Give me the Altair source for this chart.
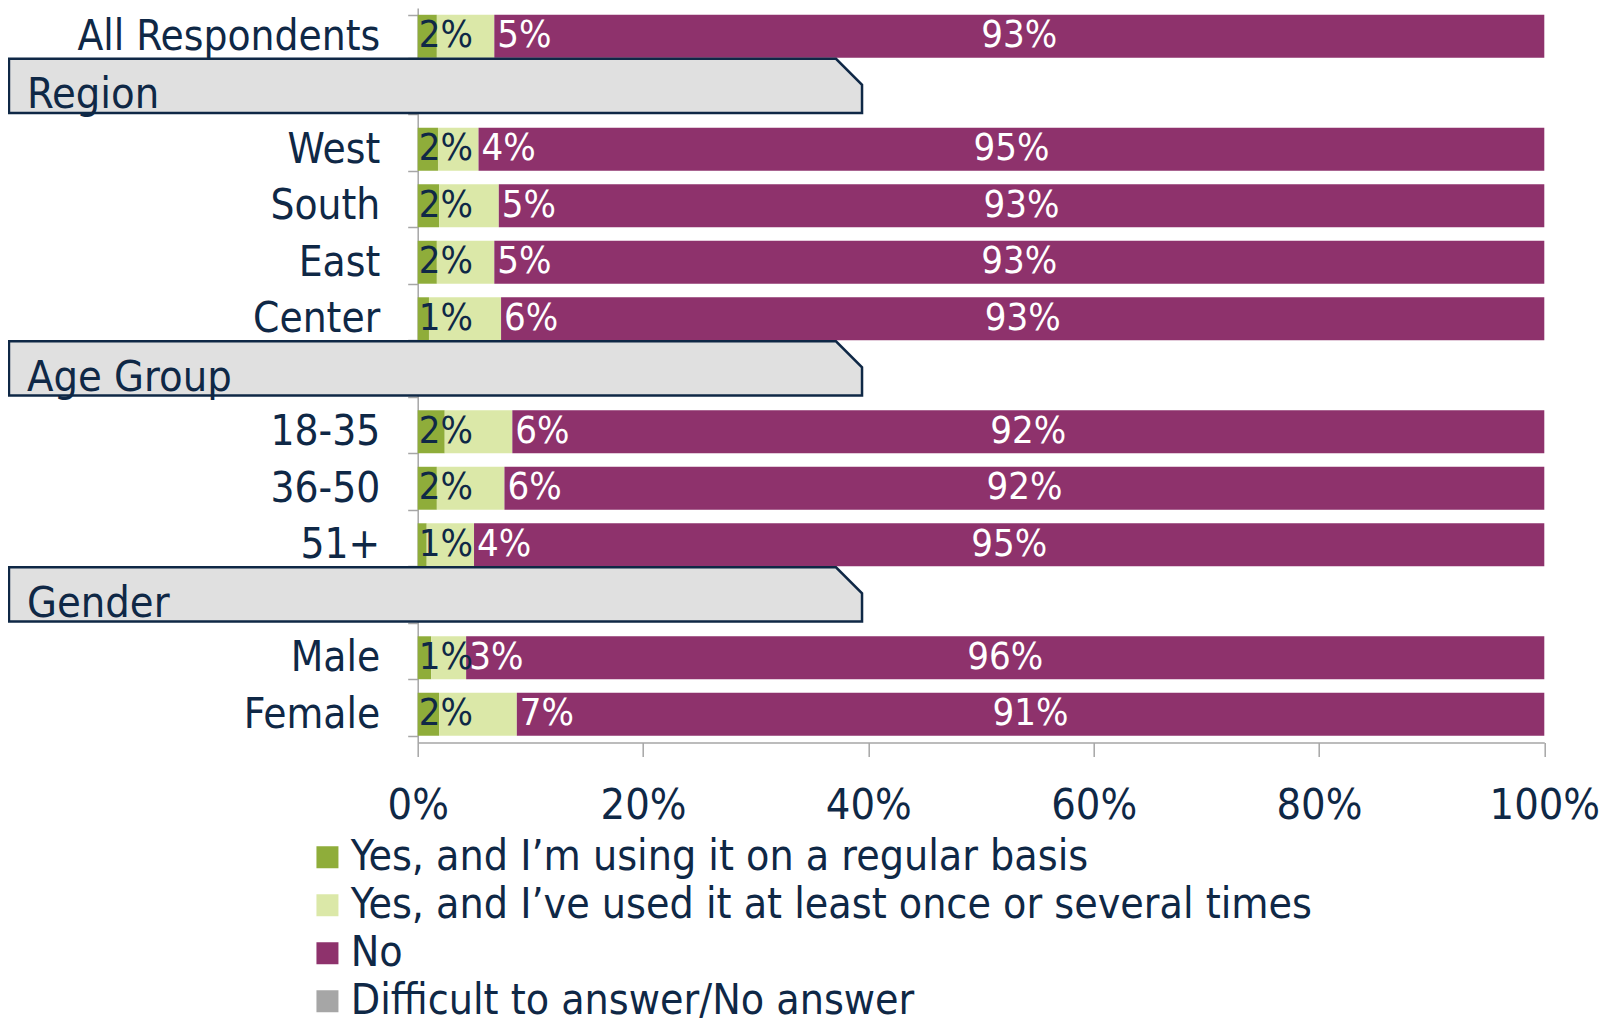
import altair as alt
import pandas as pd

# ---------------- data ----------------
categories = ["All Respondents", "Region", "West", "South", "East", "Center",
              "Age Group", "18-35", "36-50", "51+", "Gender", "Male", "Female"]
headers = ["Region", "Age Group", "Gender"]
groups = ["All Respondents", "West", "South", "East", "Center",
          "18-35", "36-50", "51+", "Male", "Female"]
series = ["Yes, and I’m using it on a regular basis",
          "Yes, and I’ve used it at least once or several times",
          "No",
          "Difficult to answer/No answer"]
regular = [1.7, 1.8, 1.9, 1.7, 1.0, 2.4, 1.7, 0.8, 1.2, 1.9]
once = [5.1, 3.6, 5.3, 5.1, 6.4, 6.0, 6.0, 4.2, 3.1, 6.9]
no = [93.2, 94.6, 92.8, 93.2, 92.6, 91.6, 92.3, 95.0, 95.7, 91.2]
difficult = [0.0, 0.0, 0.0, 0.0, 0.0, 0.0, 0.0, 0.0, 0.0, 0.0]
x_ticks = [0, 20, 40, 60, 80, 100]

# ---------------- styles ----------------
colors = ["#8FAD3A", "#DBE8A8", "#8E326C", "#A6A6A6"]
NAVY = "#0F2846"
GRAY = "#A6A6A6"
BOX_FILL = "#E0E0E0"
FONT = "DejaVu Sans Condensed, DejaVu Sans, sans-serif"

rows = []
for i, g in enumerate(groups):
    start = 0.0
    for k, (s, vals) in enumerate(zip(series, [regular, once, no, difficult])):
        v = vals[i]
        rows.append(dict(group=g, series=s, k=k, start=start, end=start + v,
                         mid=start + v / 2, label=f"{round(v)}%"))
        start += v
df = pd.DataFrame(rows)

xscale = alt.Scale(domain=[0, 100], nice=False, zero=False)
yscale = alt.Scale(domain=categories, paddingInner=0.24, paddingOuter=0.12)
hdr_list = ",".join("'" + h + "'" for h in headers)

y_axis = alt.Axis(title=None, labelExpr=f"indexof([{hdr_list}], datum.label) >= 0 ? '' : datum.label",
                  labelFontSize=42, labelFont=FONT, labelColor=NAVY, labelPadding=28,
                  labelLimit=700, tickBand="extent", tickSize=10, tickColor=GRAY,
                  tickWidth=1.5, domainColor=GRAY, domainWidth=1.5)
x_axis = alt.Axis(title=None, values=x_ticks, labelExpr="datum.value + '%'", grid=False,
                  tickSize=14, tickColor=GRAY, tickWidth=1.5, domainColor=GRAY,
                  domainWidth=1.5, labelFontSize=43, labelFont=FONT, labelColor=NAVY,
                  labelPadding=28, labelFlush=False)

legend = alt.Legend(title=None, orient="none", legendX=-111.5, legendY=828,
                    direction="vertical", symbolType="square", symbolSize=484,
                    symbolStrokeWidth=0, symbolOpacity=1, labelFontSize=42.5,
                    labelFont=FONT, labelColor=NAVY, labelLimit=1400, rowPadding=5,
                    labelOffset=2, padding=0)

base = alt.Chart(df)
bars = base.mark_bar().encode(
    y=alt.Y("group:N", sort=categories, scale=yscale, axis=y_axis),
    x=alt.X("start:Q", scale=xscale, axis=x_axis),
    x2="end:Q",
    color=alt.Color("series:N", scale=alt.Scale(domain=series, range=colors), legend=legend),
    order="k:Q",
)

txt_kw = dict(font=FONT, fontSize=38, baseline="middle")
lab_reg = base.transform_filter(alt.datum.k == 0).mark_text(
    align="left", dx=1, color=NAVY, **txt_kw).encode(
    y=alt.Y("group:N", sort=categories), x="start:Q", text="label:N")
lab_once = base.transform_filter(alt.datum.k == 1).mark_text(
    align="left", dx=3, color="white", **txt_kw).encode(
    y=alt.Y("group:N", sort=categories), x="end:Q", text="label:N")
lab_no = base.transform_filter(alt.datum.k == 2).mark_text(
    align="center", color="white", **txt_kw).encode(
    y=alt.Y("group:N", sort=categories), x="mid:Q", text="label:N")

main = alt.layer(bars, lab_reg, lab_once, lab_no)

# ---------------- header boxes ----------------
BOX_L, BOX_C, BOX_R, TEXT_X = -36.28, 37.13, 39.44, -34.68
TOP_OFF, BOT_OFF, CUT, BASE_OFF = -0.10, 0.86, 0.46, 0.77
brow = []
hrow = []
for h in headers:
    r = categories.index(h)
    top, bot = r + TOP_OFF, r + BOT_OFF
    brow += [dict(header=h, bx=BOX_L, by=top, by2=bot),
             dict(header=h, bx=BOX_C, by=top, by2=bot),
             dict(header=h, bx=BOX_R, by=top + CUT, by2=bot)]
    hrow.append(dict(header=h, tx=TEXT_X, ty=r + BASE_OFF))
df_box = pd.DataFrame(brow)
df_hdr = pd.DataFrame(hrow)

bx_scale = alt.Scale(domain=[0, 100], nice=False, zero=False)
by_scale = alt.Scale(domain=[0, len(categories)], reverse=True, nice=False, zero=False)

boxes = alt.Chart(df_box).mark_area(
    fill=BOX_FILL, stroke=NAVY, strokeWidth=2.5, interpolate="linear", orient="vertical",
    fillOpacity=1).encode(
    x=alt.X("bx:Q", scale=bx_scale, axis=None),
    y=alt.Y("by:Q", scale=by_scale, axis=None),
    y2="by2:Q",
    detail="header:N",
)
hdr_text = alt.Chart(df_hdr).mark_text(
    align="left", baseline="alphabetic", font=FONT, fontSize=43, color=NAVY).encode(
    x=alt.X("tx:Q", scale=bx_scale, axis=None),
    y=alt.Y("ty:Q", scale=by_scale, axis=None),
    text="header:N",
)
box_layer = alt.layer(boxes, hdr_text)

chart = alt.layer(main, box_layer).resolve_scale(
    x="independent", y="independent"
).properties(
    width=1126.6, height=734.5,
    autosize=alt.AutoSizeParams(type="none"),
    padding={"left": 409.7, "top": 0, "right": 60, "bottom": 275},
    background="white",
).configure_view(stroke=None)

chart.save("out.html", embed_options={"renderer": "svg", "actions": False})
